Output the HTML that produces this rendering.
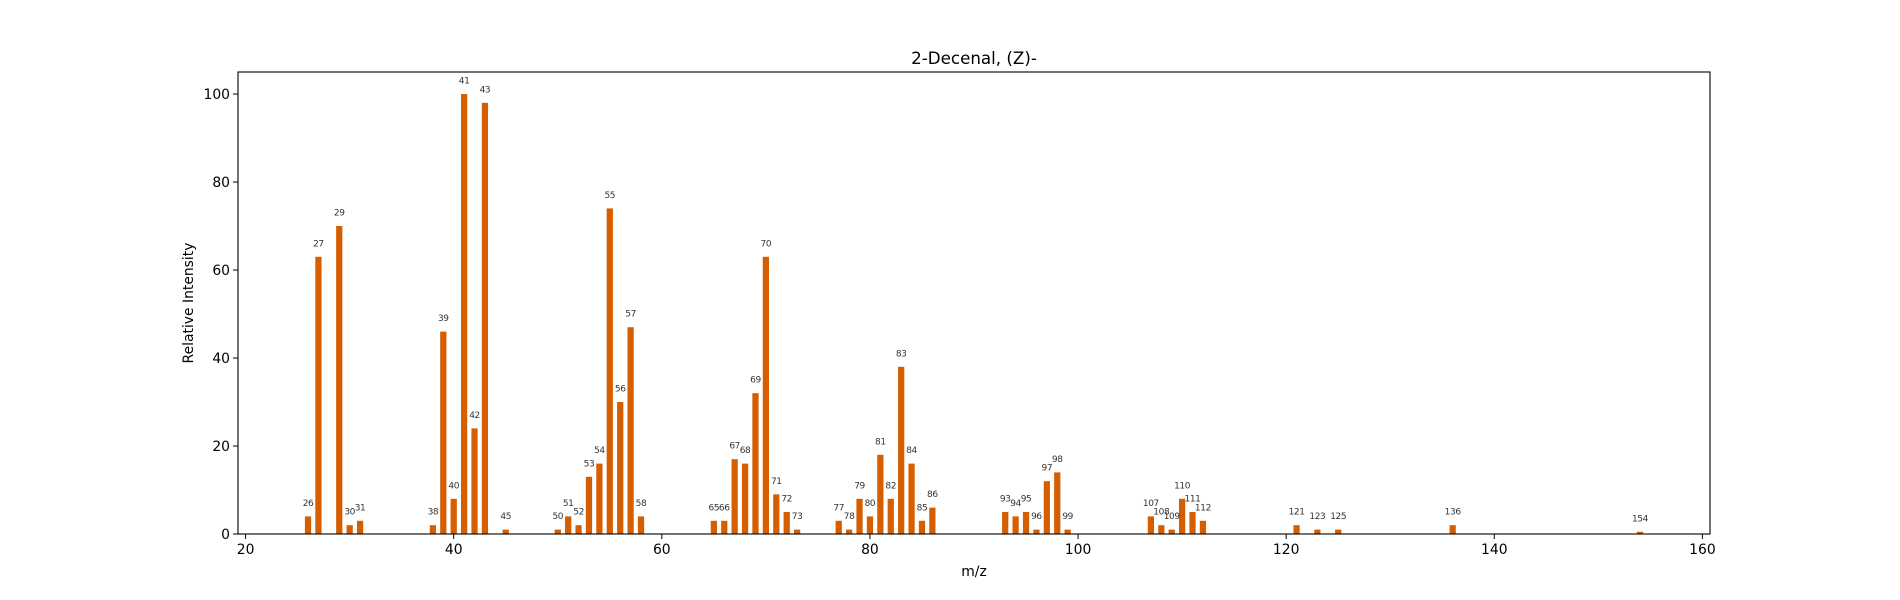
<!DOCTYPE html>
<html><head><meta charset="utf-8"><style>
body{margin:0;background:#fff}
svg{display:block;font-family:"DejaVu Sans","Liberation Sans",sans-serif}
</style></head><body>
<svg id="chart" width="1900" height="600">
<text x="974" y="64" font-size="16.7" text-anchor="middle">2-Decenal, (Z)-</text>
<g id="bars"></g>
<g id="labels"></g>
<g id="xaxis"></g>
<g id="yaxis"></g>
<rect x="238" y="72" width="1472" height="462" fill="none" stroke="#000" stroke-width="1.1"/>
<text x="974" y="576" font-size="13.9" text-anchor="middle">m/z</text>
<text transform="translate(193,303) rotate(-90)" font-size="13.9" text-anchor="middle">Relative Intensity</text>
</svg>
<script>
const mzValues=[26,27,29,30,31,38,39,40,41,42,43,45,50,51,52,53,54,55,56,57,58,65,66,67,68,69,70,71,72,73,77,78,79,80,81,82,83,84,85,86,93,94,95,96,97,98,99,107,108,109,110,111,112,121,123,125,136,154];
const intensities=[4,63,70,2,3,2,46,8,100,24,98,1,1,4,2,13,16,74,30,47,4,3,3,17,16,32,63,9,5,1,3,1,8,4,18,8,38,16,3,6,5,4,5,1,12,14,1,4,2,1,8,5,3,2,1,1,2,0.5];
const xTicks=[20,40,60,80,100,120,140,160];
const yTicks=[0,20,40,60,80,100];
const NS="http://www.w3.org/2000/svg";
const L=238,R=1710,T=72,B=534,xmin=19.27,xmax=160.73,ymax=105;
const xs=v=>L+(v-xmin)/(xmax-xmin)*(R-L);
const ys=v=>B-v/ymax*(B-T);
function mk(tag,attrs,parent){const e=document.createElementNS(NS,tag);for(const k in attrs)e.setAttribute(k,attrs[k]);parent.appendChild(e);return e;}
const bars=document.getElementById('bars'),labels=document.getElementById('labels');
mzValues.forEach((m,i)=>{
  const v=intensities[i];
  const x0=xs(m-0.3),x1=xs(m+0.3);
  const r=mk('rect',{x:x0,y:ys(v),width:x1-x0,height:B-ys(v),fill:'#d55e00'},bars);
  
  
  const t=mk('text',{x:xs(m),y:ys(v)-10.5,'font-size':9,'letter-spacing':-0.4,'text-anchor':'middle',fill:'#333'},labels);
  t.textContent=m;
  
  
});
const xa=document.getElementById('xaxis'),ya=document.getElementById('yaxis');
xTicks.forEach(v=>{
  const l=mk('line',{x1:xs(v),x2:xs(v),y1:B,y2:B+5,stroke:'#000','stroke-width':1},xa);
  
  
  const t=mk('text',{x:xs(v),y:B+20,'font-size':13.9,'text-anchor':'middle'},xa);
  t.textContent=v;
  
  
});
yTicks.forEach(v=>{
  const l=mk('line',{x1:L-5,x2:L,y1:ys(v),y2:ys(v),stroke:'#000','stroke-width':1},ya);
  
  
  const t=mk('text',{x:L-8,y:ys(v)+5,'font-size':13.9,'text-anchor':'end'},ya);
  t.textContent=v;
  
  
});
</script>
</body></html>
